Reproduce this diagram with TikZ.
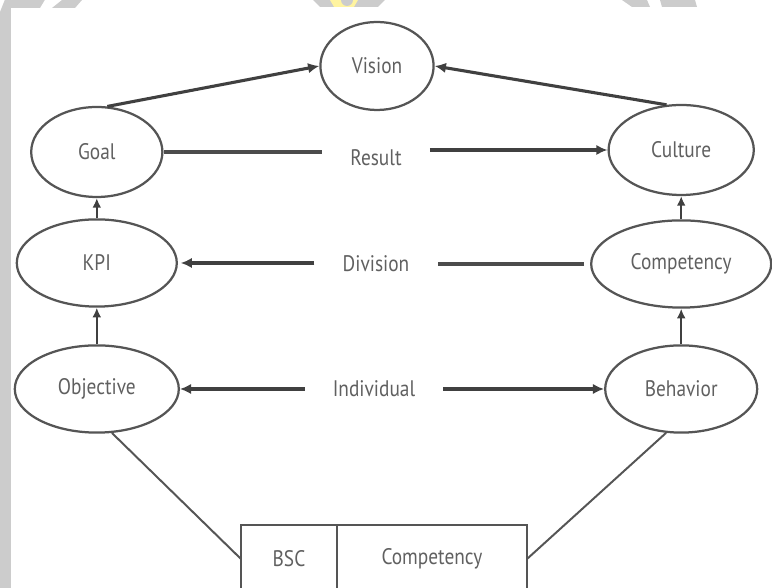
\documentclass[tikz,border=0pt]{standalone}
\usepackage{fontspec}
\setmainfont[FakeStretch=0.86]{PT Sans}
\usetikzlibrary{positioning,shapes.geometric,arrows.meta}
\definecolor{wmgray}{HTML}{CCCCCC}
\definecolor{wmyellow}{HTML}{FFF4A0}
\definecolor{inkgray}{HTML}{606060}
\definecolor{rimgray}{HTML}{555555}
\begin{document}
\begin{tikzpicture}[
  oval/.style={ellipse, draw=rimgray, line width=1.6pt, text=inkgray, inner sep=0pt, font=\fontsize{16}{19}\selectfont},
  tag/.style={text=inkgray, inner xsep=0.7cm, inner ysep=0pt, font=\fontsize{16}{19}\selectfont},
  cell/.style={rectangle, draw=rimgray, line width=1.6pt, outer sep=0pt, minimum height=1.7cm, text=inkgray, font=\fontsize{16}{19}\selectfont},
  push/.style={-{Latex[length=2.8mm,width=2.6mm]}, draw=black!75, line width=2.2pt},
  lift/.style={-{Latex[length=2.4mm,width=2.2mm]}, draw=black!75, line width=1.3pt},
  flat/.style={draw=black!70, line width=2.2pt},
  tie/.style={draw=rimgray, line width=1.4pt}]
\useasboundingbox (0,0) rectangle (19.3,14.7);
\fill[wmgray] (0,0) -- (0.275,0) -- (0.275,14.5) -- (1.0,14.5) -- (1.12,14.7) -- (0.12,14.7) -- (0,14.4) -- cycle;
\fill[wmgray] (1.55,14.7) -- (2.05,14.7) -- (1.875,14.5) -- (1.3,14.5) -- cycle;
\fill[wmgray] (7.825,14.7) -- (9.625,14.7) -- (9.45,14.525) -- (8.0,14.525) -- cycle;
\fill[wmyellow] (8.25,14.7) -- (8.95,14.7) -- (8.85,14.53) -- (8.35,14.53) -- cycle;
\fill[wmgray] (8.675,14.7) circle (0.15);
\fill[wmgray] (15.55,14.7) -- (16.175,14.7) -- (16.25,14.525) -- (15.8,14.525) -- cycle;
\fill[wmgray] (16.5,14.7) -- (17.375,14.7) -- (17.425,14.525) -- (16.55,14.525) -- cycle;

\node[oval, minimum width=2.83cm, minimum height=2.2cm] (vision) at (9.425,13.05) {Vision};
\node[oval, minimum width=3.28cm, minimum height=2.25cm] (goal) at (2.42,10.9) {Goal};
\node[oval, minimum width=4.0cm, minimum height=2.18cm] (kpi) at (2.42,8.125) {KPI};
\node[oval, minimum width=4.1cm, minimum height=2.18cm] (objective) at (2.42,4.975) {Objective};
\node[oval, minimum width=3.63cm, minimum height=2.25cm] (culture) at (17.03,10.95) {Culture};
\node[oval, minimum width=4.5cm, minimum height=2.18cm] (competency) at (17.03,8.1) {Competency};
\node[oval, minimum width=3.8cm, minimum height=2.18cm] (behavior) at (17.03,4.975) {Behavior};

\node[tag] (result) at (9.4,10.75) {Result};
\node[tag] (division) at (9.4,8.1) {Division};
\node[tag] (individual) at (9.35,4.975) {Individual};

\node[cell, minimum width=2.4cm, anchor=north west] (bsc) at (6.025,1.575) {BSC};
\node[cell, minimum width=4.75cm, right=0pt of bsc] (bsccomp) {Competency};

\draw[push] (goal.77) -- (vision.west);
\draw[push] (culture.108) -- (vision.east);
\draw[flat] (goal.east) -- (goal.east -| result.west);
\draw[push] (result.east |- culture.west) -- (culture.west);
\draw[push, shorten >=2pt] (division.west |- kpi.east) -- (kpi.east);
\draw[flat, shorten <=0.15cm] (competency.west) -- (competency.west -| division.east);
\draw[push] (individual.west) -- (objective.east);
\draw[push] (individual.east) -- (behavior.west);
\draw[lift] (kpi.north) -- (goal.south);
\draw[lift] (objective.north) -- (kpi.south);
\draw[lift] (competency.north) -- (culture.south);
\draw[lift] (behavior.north) -- (competency.south);
\draw[tie] (objective.-71) -- (bsc.west);
\draw[tie] (behavior.-109) -- (bsccomp.east);
\end{tikzpicture}
\end{document}
